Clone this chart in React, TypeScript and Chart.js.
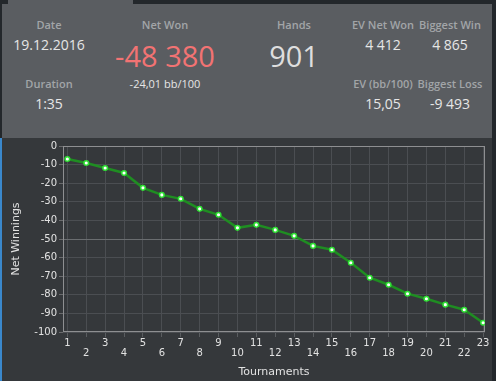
import React, { useEffect, useRef } from "react";
import { Chart, registerables } from "chart.js";

Chart.register(...registerables);

const tournaments = [1, 2, 3, 4, 5, 6, 7, 8, 9, 10, 11, 12, 13, 14, 15, 16, 17, 18, 19, 20, 21, 22, 23];
const netWinnings = [-7.0, -9.1, -11.8, -14.5, -22.5, -26.3, -28.4, -33.8, -37.0, -44.0, -42.4, -45.1, -48.3, -53.7, -55.8, -62.8, -70.8, -74.6, -79.4, -82.1, -85.3, -88.0, -95.0];
const yTicks = [0, -10, -20, -30, -40, -50, -60, -70, -80, -90, -100];

const statLabels = ["Date", "Duration", "Net Won", "Hands", "EV Net Won", "Biggest Win", "EV (bb/100)", "Biggest Loss"];
const statValues = ["19.12.2016", "1:35", "-48 380", "-24,01 bb/100", "901", "4 412", "4 865", "15,05", "-9 493"];

const FONT = "'Open Sans', sans-serif";

function Txt(props: { x: number; y: number; size: number; color: string; weight?: number; children: any }) {
  return (
    <div
      style={{
        position: "absolute",
        left: props.x,
        top: props.y,
        transform: "translate(-50%, -50%)",
        fontFamily: FONT,
        fontSize: props.size,
        fontWeight: props.weight ?? 400,
        color: props.color,
        whiteSpace: "nowrap",
        lineHeight: 1,
      }}
    >
      {props.children}
    </div>
  );
}

export default function App() {
  const ref = useRef<HTMLCanvasElement | null>(null);

  useEffect(() => {
    document.body.style.margin = "0";
    const canvas = ref.current!;
    const borderPlugin = {
      id: "plotBorder",
      beforeDatasetsDraw(chart: any) {
        const { ctx, chartArea } = chart;
        ctx.save();
        ctx.strokeStyle = "#8e8f91";
        ctx.lineWidth = 1;
        ctx.strokeRect(
          Math.round(chartArea.left) + 0.5,
          Math.round(chartArea.top) + 0.5,
          Math.round(chartArea.right - chartArea.left) - 1,
          Math.round(chartArea.bottom - chartArea.top) - 1
        );
        ctx.restore();
      },
    };
    const chart = new Chart(canvas, {
      type: "line",
      data: {
        datasets: [
          {
            data: tournaments.map((t, i) => ({ x: t, y: netWinnings[i] })),
            borderColor: "#1f8d22",
            borderWidth: 2.5,
            pointRadius: 2.3,
            pointBackgroundColor: "#ffffff",
            pointBorderColor: "#2fe034",
            pointBorderWidth: 1.5,
            tension: 0,
          },
        ],
      },
      plugins: [borderPlugin],
      options: {
        animation: false,
        responsive: false,
        devicePixelRatio: 1,
        layout: { padding: { top: 8, right: 7, left: 0, bottom: 0 } },
        plugins: { legend: { display: false }, tooltip: { enabled: false } },
        scales: {
          x: {
            type: "linear",
            min: 0.77,
            max: 23.1,
            afterBuildTicks: (scale: any) => {
              scale.ticks = tournaments.map((v) => ({ value: v }));
            },
            afterFit: (scale: any) => {
              scale.height = 49;
            },
            grid: {
              color: "#4b4e52",
              tickColor: "#5a5d60",
              tickLength: 5,
            },
            border: { display: false },
            ticks: {
              color: "#e2e2e2",
              font: { family: "'DejaVu Sans'", size: 10, lineHeight: 1 },
              padding: 1,
              maxRotation: 0,
              autoSkip: false,
              callback: (v: any) => (Number(v) % 2 === 1 ? String(v) : ["", String(v)]),
            },
            title: {
              display: true,
              text: "Tournaments",
              color: "#e2e2e2",
              font: { family: "'DejaVu Sans'", size: 11 },
              padding: { top: 0, bottom: 2 },
            },
          },
          y: {
            min: -100,
            max: 0,
            afterBuildTicks: (scale: any) => {
              scale.ticks = yTicks.map((v) => ({ value: v }));
            },
            afterFit: (scale: any) => {
              scale.width = 61;
            },
            grid: {
              color: (c: any) => (c.tick && c.tick.value === -50 ? "#6a6d70" : "#4b4e52"),
              tickColor: "#6a6b6d",
              tickLength: 4,
            },
            border: { display: false },
            ticks: {
              color: "#e2e2e2",
              font: { family: "'DejaVu Sans'", size: 10 },
              padding: 2,
            },
            title: {
              display: true,
              text: "Net Winnings",
              color: "#e2e2e2",
              font: { family: "'DejaVu Sans'", size: 11 },
              padding: { top: 8, bottom: 0 },
            },
          },
        },
      },
    } as any);
    return () => chart.destroy();
  }, []);

  const lab = "#a2a5a8";
  const val = "#e6e6e6";

  return (
    <div style={{ position: "fixed", left: 0, top: 0, width: 496, height: 381, background: "#23272b", overflow: "hidden" }}>
      <div style={{ position: "absolute", left: 8, top: 0, width: 125, height: 4, background: "#5a5d61" }} />
      <div style={{ position: "absolute", left: 2, top: 4, width: 490, height: 134, background: "#5a5d61" }} />
      <div style={{ position: "absolute", left: 0, top: 138, width: 2, height: 243, background: "#3a88cc" }} />
      <div style={{ position: "absolute", left: 2, top: 138, width: 490, height: 243, background: "#35383b" }}>
        <canvas ref={ref} width={490} height={243} style={{ display: "block", width: 490, height: 243 }} />
      </div>

      <Txt x={49} y={24} size={11} color={lab} weight={600}>{statLabels[0]}</Txt>
      <Txt x={49} y={45} size={14} color={val}>{statValues[0]}</Txt>
      <Txt x={49} y={83} size={11} color={lab} weight={600}>{statLabels[1]}</Txt>
      <Txt x={49} y={104} size={14} color={val}>{statValues[1]}</Txt>

      <Txt x={165} y={24} size={11} color={lab} weight={600}>{statLabels[2]}</Txt>
      <Txt x={165} y={55} size={29} color="#f27373">{statValues[2]}</Txt>
      <Txt x={165} y={83} size={11} color={val}>{statValues[3]}</Txt>

      <Txt x={294} y={24} size={11} color={lab} weight={600}>{statLabels[3]}</Txt>
      <Txt x={294} y={55} size={29} color="#dedede">{statValues[4]}</Txt>

      <Txt x={383} y={24} size={11} color={lab} weight={600}>{statLabels[4]}</Txt>
      <Txt x={383} y={45} size={14} color={val}>{statValues[5]}</Txt>
      <Txt x={450} y={24} size={11} color={lab} weight={600}>{statLabels[5]}</Txt>
      <Txt x={450} y={45} size={14} color={val}>{statValues[6]}</Txt>

      <Txt x={383} y={83} size={11} color={lab} weight={600}>{statLabels[6]}</Txt>
      <Txt x={383} y={104} size={14} color={val}>{statValues[7]}</Txt>
      <Txt x={450} y={83} size={11} color={lab} weight={600}>{statLabels[7]}</Txt>
      <Txt x={450} y={104} size={14} color={val}>{statValues[8]}</Txt>
    </div>
  );
}
